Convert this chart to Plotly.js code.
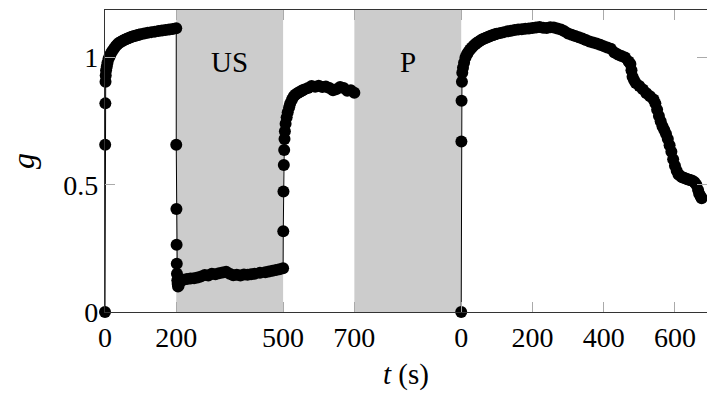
<!DOCTYPE html>
<html>
<head>
<meta charset="utf-8">
<script src="https://cdn.plot.ly/plotly-3.0.1.min.js"></script>
<style>html,body{margin:0;padding:0;overflow:hidden;background:#fff}</style>
</head>
<body>
<div id="chart" style="width:707px;height:397px"></div>
<script>
// Run 1: before US (t 0-200), during US (200-500), after US (500-700)
const run1T = [0,0.5,1,1.5,2,3,5,7,10,13,16,20,25,30,35,40,45,50,55,60,65,70,75,80,85,90,95,100,110,120,130,140,150,160,170,180,190,200,
  200,200.5,201,201.5,202,203,204,205,207,210,215,220,230,240,250,260,270,280,290,300,310,320,330,340,350,360,370,380,390,400,410,420,435,450,460,470,480,490,500,
  500.5,501,502,503,504,505,507,510,513,517,520,525,530,535,540,545,550,555,560,570,580,590,600,610,620,630,640,650,660,670,680,690,700];
const run1G = [0,0.657,0.82,0.905,0.93,0.95,0.965,0.98,0.995,1.005,1.015,1.025,1.035,1.045,1.052,1.058,1.062,1.066,1.07,1.073,1.076,1.079,1.082,1.084,1.086,1.088,1.09,1.092,1.095,1.098,1.1,1.102,1.104,1.106,1.108,1.11,1.112,1.115,
  0.657,0.405,0.264,0.19,0.15,0.125,0.11,0.1,0.105,0.12,0.125,0.127,0.13,0.132,0.133,0.136,0.14,0.145,0.143,0.15,0.148,0.152,0.155,0.158,0.15,0.144,0.146,0.143,0.147,0.146,0.148,0.15,0.154,0.156,0.159,0.162,0.165,0.168,0.172,
  0.317,0.474,0.578,0.637,0.68,0.71,0.74,0.765,0.785,0.805,0.82,0.835,0.848,0.855,0.86,0.864,0.868,0.872,0.875,0.88,0.888,0.885,0.889,0.884,0.886,0.88,0.872,0.876,0.884,0.88,0.87,0.872,0.862];
// Run 2: after P (t 0-675), plotted after the P pause
const run2T = [0,0.5,1,2,3,5,8,12,16,20,25,30,35,40,45,50,55,60,65,70,75,80,85,90,95,100,110,120,130,140,150,160,170,180,190,200,210,220,230,240,250,260,270,280,290,300,310,320,330,340,350,360,370,380,390,400,410,420,430,440,450,460,470,475,478,481,485,490,500,510,520,530,540,545,550,555,560,565,570,575,580,585,590,595,600,605,610,615,620,625,630,635,640,645,650,655,660,665,668,672,675];
const run2G = [0,0.67,0.83,0.905,0.94,0.96,0.98,1.0,1.013,1.022,1.032,1.04,1.047,1.053,1.058,1.063,1.068,1.072,1.075,1.078,1.081,1.084,1.087,1.089,1.092,1.094,1.097,1.1,1.103,1.105,1.108,1.11,1.111,1.113,1.114,1.116,1.118,1.12,1.117,1.116,1.119,1.118,1.114,1.11,1.103,1.095,1.09,1.085,1.08,1.075,1.069,1.063,1.059,1.055,1.05,1.045,1.04,1.035,1.02,1.012,1.006,1.0,0.985,0.975,0.95,0.925,0.912,0.9,0.888,0.875,0.86,0.848,0.835,0.82,0.795,0.77,0.75,0.73,0.715,0.7,0.68,0.655,0.63,0.6,0.575,0.555,0.54,0.535,0.53,0.528,0.525,0.522,0.52,0.518,0.515,0.51,0.5,0.48,0.465,0.455,0.447];
const run2Offset = 1000;
const tickVals = [0,200,500,700,1000,1200,1400,1600];
const tickText = ['0','200','500','700','0','200','400','600'];
const yTickVals = [0,0.5,1];
const yTickText = ['0','0.5','1'];
const phaseLabels = ['US','P'];
const phaseStart = [200,700];
const phaseEnd = [500,1000];

const run2X = run2T.map(t => t + run2Offset);
const font = 'Liberation Serif';
const mk = {size: 12, color: '#000'};
const traces = [
  {x: run1T, y: run1G, mode: 'lines+markers', line: {color: '#000', width: 1}, marker: mk, cliponaxis: false, hoverinfo: 'skip'},
  {x: run2X, y: run2G, mode: 'lines+markers', line: {color: '#000', width: 1}, marker: mk, cliponaxis: false, hoverinfo: 'skip'}
];
const shapes = phaseStart.map((s, i) => ({type: 'rect', xref: 'x', yref: 'paper', x0: s, x1: phaseEnd[i], y0: 0, y1: 1,
  fillcolor: '#cccccc', line: {width: 0}, layer: 'below'}));
const annotations = phaseLabels.map((l, i) => ({x: (phaseStart[i] + phaseEnd[i]) / 2, y: 0.983, xref: 'x', yref: 'y',
  text: l, showarrow: false, font: {family: font, size: 29, color: '#000'}}));
const layout = {
  width: 707, height: 397,
  margin: {l: 105, r: 0, t: 10, b: 85},
  paper_bgcolor: '#fff', plot_bgcolor: '#fff',
  showlegend: false,
  font: {family: font, size: 28, color: '#000'},
  xaxis: {range: [0, 1690], tickvals: tickVals, ticktext: tickText, ticks: 'inside', ticklen: 10, tickcolor: '#aaa', tickwidth: 1,
    showline: true, linecolor: '#333', linewidth: 1.2, mirror: 'ticks', showgrid: false, zeroline: false,
    tickfont: {family: font, size: 28, color: '#000'}, title: {text: '<i>t</i> (s)', font: {family: font, size: 29, color: '#000'}, standoff: 12}},
  yaxis: {range: [0, 1.187], tickvals: yTickVals, ticktext: yTickText, ticks: 'inside', ticklen: 10, tickcolor: '#aaa', tickwidth: 1,
    showline: true, linecolor: '#333', linewidth: 1.2, mirror: 'ticks', showgrid: false, zeroline: false,
    tickfont: {family: font, size: 28, color: '#000'}, title: {text: '<i>g</i>', font: {family: font, size: 32, color: '#000'}, standoff: 19}},
  shapes: shapes, annotations: annotations
};
Plotly.newPlot('chart', traces, layout, {staticPlot: true, displayModeBar: false});
</script>
</body>
</html>
